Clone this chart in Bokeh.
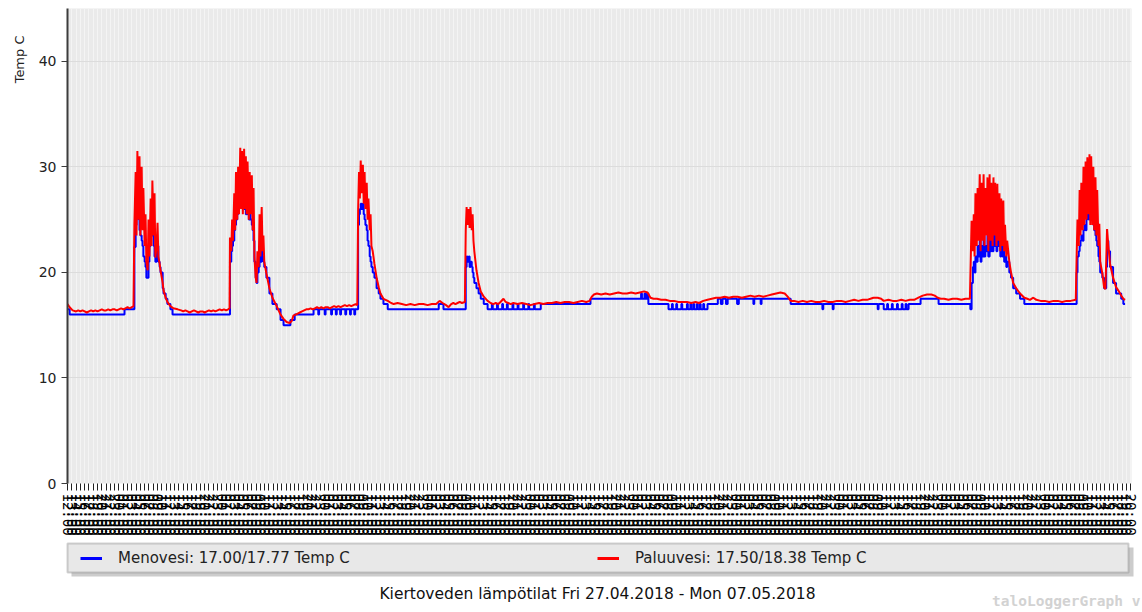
from bokeh.embed import file_html
from bokeh.layouts import column
from bokeh.models import (BoxAnnotation, FixedTicker, Label, Legend, LegendItem,
                          Range1d, Title)
from bokeh.plotting import figure
from bokeh.resources import INLINE

# Time axis: hours since Fri 27.04.2018 12:00
START_HOUR = 12
SPAN_HOURS = 248.2

# Menovesi (supply water), logged with 0.5 degree steps
meno_t = [
    0.0, 0.5, 13.3,
    15.6, 15.9, 16.1, 16.3, 16.6, 16.8, 17.0, 17.3, 17.5, 17.7, 18.0, 18.2, 18.4, 18.9,
    19.1, 19.4, 19.6, 19.8, 20.1, 20.3, 20.5, 20.8, 21.0, 21.2, 21.5, 21.7, 22.2, 22.4,
    22.9, 23.3, 24.0, 24.5,
    37.9, 38.2, 38.4, 38.6, 38.9, 39.1, 39.3, 39.6, 39.8, 40.0, 40.3, 40.5, 40.7, 40.9,
    41.2, 41.4, 41.6, 41.8, 42.0, 42.3, 42.5, 42.7, 43.0, 43.2, 43.4, 43.6, 43.9, 44.1,
    44.3, 44.6, 44.8, 45.0, 45.3, 45.5, 45.7, 45.9, 46.4, 47.1, 47.8, 48.8, 49.7, 50.4,
    52.0, 53.0, 57.4, 58.5, 58.7, 60.0, 60.2, 61.5, 61.7, 62.6, 62.8, 63.6, 63.8, 64.8,
    65.0, 65.9, 66.1, 66.9, 67.1,
    67.8, 68.0, 68.2, 68.4, 68.6, 68.9, 69.1, 69.3, 69.5, 69.8, 70.0, 70.2, 70.5, 70.7,
    70.9, 71.2, 71.6, 72.1, 72.6, 73.0, 73.7, 74.7, 86.6, 87.7,
    92.9, 93.1, 93.3, 93.6, 93.8, 94.0, 94.3, 94.5, 94.7, 94.9, 95.4, 95.9, 96.4, 97.1,
    98.0, 99.0, 99.2, 100.2, 100.4, 101.4, 101.6, 102.5, 102.7, 103.8, 104.0, 105.0,
    105.2, 106.3, 106.5, 107.5, 107.7, 108.8, 109.0, 110.4, 122.0, 133.8, 134.0, 134.6,
    134.8, 135.2, 135.5, 140.2, 141.0, 141.2, 142.0, 142.2, 143.2, 143.4, 144.5, 144.7,
    145.3, 145.5, 146.0, 146.2, 146.8, 147.0, 147.5, 147.7, 148.3, 148.5, 149.3, 151.7,
    152.4, 152.8, 153.6, 154.0, 156.2, 156.6, 160.0, 160.2, 161.7, 161.9, 168.7, 176.1,
    176.3, 178.5, 178.7, 189.0, 189.2, 190.4, 191.2, 191.4, 192.3, 192.5, 193.5, 193.7,
    194.6, 194.8, 195.5, 195.7, 196.2, 199.0, 203.2, 210.6,
    210.9, 211.2, 211.4, 211.6, 211.8, 212.1, 212.3, 212.5, 212.8, 213.0, 213.2, 213.5,
    213.7, 213.9, 214.1, 214.4, 214.6, 214.8, 215.1, 215.3, 215.5, 215.8, 216.0, 216.2,
    216.4, 216.7, 216.9, 217.1, 217.4, 217.6, 217.8, 218.1, 218.3, 218.5, 218.7, 219.0,
    219.2, 219.7, 220.1, 220.6, 221.3, 222.2, 223.2,
    235.4, 235.6, 235.9, 236.1, 236.3, 236.5, 236.8, 237.0, 237.2, 237.5, 237.7, 237.9,
    238.2, 238.4, 238.6, 238.8, 239.1, 239.3, 239.5, 239.8, 240.0, 240.2, 240.5, 240.7,
    240.9, 241.4, 241.8, 242.1, 242.3, 242.5, 242.8, 243.2, 243.9, 244.6, 245.1, 245.8,
    246.3, 246.7,
]
meno_v = [
    16.5, 16.0, 16.5,
    22.4, 24.5, 25.5, 26.5, 25.0, 24.0, 23.5, 23.0, 22.5, 21.5, 21.0, 20.5, 19.5, 21.0,
    22.5, 24.0, 23.5, 24.0, 22.5, 21.5, 21.0, 22.0, 22.5, 21.0, 20.5, 20.0, 18.5, 18.0,
    17.5, 17.0, 16.5, 16.0,
    21.0, 22.0, 22.5, 23.0, 24.0, 24.5, 25.0, 25.5, 26.0, 26.5, 27.0, 26.5, 27.0, 26.5,
    26.0, 26.5, 25.5, 26.0, 25.5, 25.0, 25.5, 25.0, 24.5, 24.0, 23.0, 21.0, 19.5, 19.0,
    20.0, 20.5, 21.5, 21.0, 22.0, 21.5, 21.0, 20.5, 19.5, 18.0, 17.0, 16.5, 15.5, 15.0,
    15.5, 16.0, 16.5, 16.0, 16.5, 16.0, 16.5, 16.0, 16.5, 16.0, 16.5, 16.0, 16.5, 16.0,
    16.5, 16.0, 16.5, 16.0, 16.5,
    24.5, 25.5, 26.0, 26.5, 26.0, 26.5, 25.5, 25.0, 24.5, 24.0, 23.0, 22.5, 21.5, 21.0,
    20.5, 20.0, 19.5, 18.5, 18.0, 17.5, 17.0, 16.5, 17.0, 16.5,
    20.5, 21.5, 21.0, 21.5, 20.5, 21.0, 20.5, 20.0, 19.5, 19.0, 18.5, 18.0, 17.5, 17.0,
    16.5, 17.0, 16.5, 17.0, 16.5, 17.0, 16.5, 17.0, 16.5, 17.0, 16.5, 17.0,
    16.5, 17.0, 16.5, 17.0, 16.5, 17.0, 16.5, 17.0, 17.5, 18.0, 17.5, 18.0,
    17.5, 18.0, 17.0, 16.5, 17.0, 16.5, 17.0, 16.5, 17.0, 16.5, 17.0, 16.5,
    17.0, 16.5, 17.0, 16.5, 17.0, 16.5, 17.0, 16.5, 17.0, 16.5, 17.0, 17.5,
    17.0, 17.5, 17.0, 17.5, 17.0, 17.5, 17.0, 17.5, 17.0, 17.5, 17.0, 16.5,
    17.0, 16.5, 17.0, 16.5, 17.0, 16.5, 17.0, 16.5, 17.0, 16.5, 17.0, 16.5,
    17.0, 16.5, 17.0, 16.5, 17.0, 17.5, 17.0, 16.5,
    19.0, 20.5, 21.0, 20.0, 21.5, 21.0, 22.5, 21.5, 23.0, 21.0, 22.5, 21.5,
    23.5, 21.5, 22.5, 22.0, 23.5, 21.5, 24.0, 22.0, 23.0, 22.0, 24.0, 22.5,
    23.5, 22.0, 24.3, 22.5, 23.5, 21.5, 23.0, 21.5, 22.5, 21.0, 21.5, 20.5,
    21.0, 20.0, 19.5, 18.5, 18.0, 17.5, 17.0,
    20.0, 21.5, 22.0, 22.5, 23.0, 23.5, 23.0, 24.0, 24.5, 24.0, 25.0, 25.5,
    25.0, 26.0, 25.5, 25.5, 25.0, 24.5, 24.0, 23.5, 23.0, 22.5, 21.5, 21.0,
    20.0, 19.5, 18.5, 18.5, 20.5, 23.0, 22.0, 20.5, 19.0, 18.0, 18.0, 17.5,
    17.0, 17.0,
]

# Paluuvesi (return water)
paluu_t = [
    0.0, 0.5, 1.2, 2.0, 2.5, 3.0, 3.5, 4.0, 4.5, 5.0, 5.5, 6.0, 6.5, 7.0, 7.5, 8.0, 8.5,
    9.0, 9.5, 10.0, 10.5, 11.0, 11.5, 12.0, 12.5, 13.0, 13.5, 14.0, 14.5, 15.0, 15.4,
    15.6, 15.9, 16.1, 16.3, 16.6, 16.8, 17.0, 17.3, 17.5, 17.7, 18.0, 18.2, 18.4, 18.7,
    18.9, 19.1, 19.4, 19.6, 19.8, 20.1, 20.3, 20.5, 20.8, 21.0, 21.2, 21.5, 21.7, 22.2,
    22.4, 22.9, 23.3, 24.0, 24.7, 25.7, 26.5, 27.0, 27.5, 28.0, 28.5, 29.0, 29.5, 30.0,
    30.5, 31.0, 31.5, 32.0, 32.5, 33.0, 33.5, 34.0, 34.5, 35.0, 35.5, 36.0, 36.5, 37.0,
    37.5, 37.8,
    37.9, 38.2, 38.4, 38.6, 38.9, 39.1, 39.3, 39.6, 39.8, 40.0, 40.3, 40.5, 40.7, 40.9,
    41.2, 41.4, 41.6, 41.8, 42.0, 42.3, 42.5, 42.7, 43.0, 43.2, 43.4, 43.6, 43.9, 44.1,
    44.3, 44.6, 44.8, 45.0, 45.3, 45.5, 45.7, 45.9, 46.4, 47.1, 47.8, 48.8, 49.7, 50.4,
    51.1, 51.8, 52.3, 52.7, 53.2, 53.7, 54.2, 54.7, 55.2, 55.7, 56.2, 56.7, 57.2, 57.7,
    58.2, 58.7, 59.2, 59.7, 60.2, 60.7, 61.2, 61.7, 62.2, 62.7, 63.2, 63.7, 64.2, 64.7,
    65.2, 65.7, 66.2, 66.7, 67.2, 67.6,
    67.8, 68.0, 68.2, 68.4, 68.6, 68.9, 69.1, 69.3, 69.5, 69.8, 70.0, 70.2, 70.5, 70.7,
    70.9, 71.2, 71.6, 72.1, 72.6, 73.0, 73.7, 74.7, 75.5, 76.1, 77.0, 78.0, 79.0, 80.0,
    81.0, 82.0, 83.0, 84.0, 85.0, 86.0, 86.8, 87.5, 88.3, 88.9, 89.5, 90.0, 90.5, 91.0,
    91.5, 92.0, 92.7,
    92.9, 93.1, 93.3, 93.6, 93.8, 94.0, 94.3, 94.5, 94.7, 94.9, 95.4, 95.9, 96.4, 97.1,
    98.0, 98.7, 99.3, 99.9, 100.5, 101.0, 101.7, 102.2, 102.8, 103.4, 104.0, 105.0,
    106.0, 107.0, 108.0, 109.0, 110.0, 111.0, 112.0, 113.0, 114.0, 115.0, 116.0, 117.0,
    118.0, 119.0, 120.0, 121.0, 121.8, 122.3, 122.8, 123.5, 124.5, 125.5, 126.5, 127.5,
    128.5, 129.5, 130.5, 131.5, 132.5, 133.5, 134.5, 135.3, 136.0, 136.7, 137.5, 138.5,
    139.5, 140.5, 141.5, 142.5, 143.5, 144.5, 145.5, 146.5, 147.3, 148.3, 149.3, 150.3,
    151.3, 152.3, 153.3, 154.3, 155.3, 156.3, 157.3, 158.3, 159.3, 160.3, 161.3, 162.3,
    163.3, 164.3, 165.3, 166.3, 167.3, 168.0, 168.7, 169.5, 170.5, 171.5, 172.5, 173.5,
    174.5, 175.5, 176.5, 177.5, 178.5, 179.5, 180.5, 181.5, 182.5, 183.5, 184.5, 185.5,
    186.5, 187.3, 188.0, 189.0, 189.8, 190.4, 191.5, 192.5, 193.5, 194.5, 195.5, 196.5,
    197.5, 198.5, 199.5, 200.5, 201.5, 202.3, 203.0, 203.7, 204.5, 205.5, 206.5, 207.5,
    208.5, 209.5, 210.5,
    210.9, 211.2, 211.4, 211.6, 211.8, 212.1, 212.3, 212.5, 212.8, 213.0, 213.2, 213.5,
    213.7, 213.9, 214.1, 214.4, 214.6, 214.8, 215.1, 215.3, 215.5, 215.8, 216.0, 216.2,
    216.4, 216.7, 216.9, 217.1, 217.4, 217.6, 217.8, 218.1, 218.3, 218.5, 218.7, 219.0,
    219.2, 219.7, 220.1, 220.6, 221.3, 222.2, 223.2, 223.9, 224.5, 225.3, 226.0, 227.0,
    228.0, 229.0, 230.0, 231.0, 232.0, 233.0, 234.0, 235.2,
    235.4, 235.6, 235.9, 236.1, 236.3, 236.5, 236.8, 237.0, 237.2, 237.5, 237.7, 237.9,
    238.2, 238.4, 238.6, 238.8, 239.1, 239.3, 239.5, 239.8, 240.0, 240.2, 240.5, 240.7,
    240.9, 241.4, 241.8, 242.1, 242.3, 242.5, 242.8, 243.2, 243.9, 244.6, 245.1, 245.8,
    246.3, 246.7,
]
paluu_v = [
    17.0, 16.7, 16.4, 16.3, 16.4, 16.3, 16.4, 16.3, 16.2, 16.3, 16.4, 16.3, 16.4, 16.3,
    16.4, 16.5, 16.4, 16.4, 16.5, 16.4, 16.5, 16.5, 16.4, 16.5, 16.6, 16.5, 16.6, 16.7,
    16.6, 16.7, 16.8,
    24.5, 29.5, 23.5, 31.5, 25.0, 31.0, 23.5, 30.0, 24.0, 28.0, 22.5, 25.5, 21.0, 20.2,
    25.0, 21.5, 27.0, 22.5, 28.7, 23.5, 27.5, 21.4, 22.5, 24.7, 21.5, 20.8, 20.2, 19.0,
    18.3, 17.6, 17.2, 16.8, 16.6, 16.5, 16.4, 16.3, 16.4, 16.3, 16.2, 16.3, 16.4, 16.3,
    16.2, 16.3, 16.3, 16.2, 16.3, 16.4, 16.3, 16.4, 16.3, 16.4, 16.5, 16.4, 16.5, 16.4,
    16.5, 16.6,
    23.3, 22.0, 25.0, 23.0, 27.5, 24.0, 29.5, 25.0, 30.0, 25.5, 31.8, 26.0, 31.5, 25.5,
    31.7, 26.0, 31.0, 25.5, 30.5, 25.0, 29.5, 25.5, 29.2, 24.0, 28.0, 21.5, 19.5, 19.0,
    22.0, 20.5, 25.5, 21.5, 26.2, 22.0, 23.5, 21.0, 19.9, 18.5, 17.6, 16.8, 16.0, 15.6,
    15.3, 15.2, 15.4, 15.9, 16.0, 16.1, 16.2, 16.3, 16.4, 16.5, 16.5, 16.6, 16.5, 16.6,
    16.7, 16.6, 16.7, 16.6, 16.7, 16.7, 16.6, 16.7, 16.8, 16.7, 16.8, 16.7, 16.8, 16.9,
    16.8, 16.9, 16.8, 16.9, 17.0, 16.9,
    26.0, 29.5, 27.0, 30.6, 27.5, 30.2, 26.5, 29.5, 26.0, 28.5, 25.0, 27.0, 24.0, 25.5,
    22.5, 22.0, 20.8, 19.5, 18.6, 18.0, 17.5, 17.3, 17.1, 17.0, 17.1, 17.0, 16.9, 17.0,
    16.9, 17.0, 17.0, 16.9, 17.0, 17.0, 17.3, 17.1, 16.9, 16.7, 17.0, 17.1, 17.0, 17.1,
    17.2, 17.1, 17.2,
    24.0, 26.2, 24.5, 26.0, 24.2, 26.2, 24.0, 25.5, 23.0, 22.0, 20.2, 19.0, 18.2, 17.7,
    17.3, 17.1, 17.0, 17.1, 17.0, 17.2, 17.5, 17.2, 17.1, 17.0, 17.1, 17.0,
    17.1, 17.0, 16.9, 17.0, 17.1, 17.0, 17.1, 17.1, 17.2, 17.1, 17.2, 17.2,
    17.1, 17.2, 17.3, 17.2, 17.3, 17.7, 17.9, 18.0, 17.9, 18.0, 17.9, 18.0,
    18.1, 18.0, 18.0, 18.1, 18.0, 18.1, 18.2, 18.1, 17.6, 17.5, 17.5, 17.4,
    17.4, 17.3, 17.3, 17.2, 17.2, 17.2, 17.1, 17.2, 17.1, 17.3, 17.4, 17.5,
    17.6, 17.6, 17.7, 17.6, 17.7, 17.7, 17.6, 17.7, 17.8, 17.7, 17.8, 17.7,
    17.8, 17.9, 18.0, 18.1, 18.0, 17.7, 17.3, 17.3, 17.2, 17.3, 17.2, 17.3,
    17.2, 17.2, 17.3, 17.2, 17.2, 17.3, 17.3, 17.2, 17.3, 17.4, 17.3, 17.4,
    17.4, 17.5, 17.6, 17.6, 17.5, 17.3, 17.4, 17.3, 17.3, 17.4, 17.3, 17.4,
    17.4, 17.6, 17.8, 17.9, 17.9, 17.8, 17.6, 17.5, 17.5, 17.4, 17.5, 17.5,
    17.4, 17.5, 17.5,
    24.9, 22.0, 25.5, 21.5, 27.5, 22.5, 28.0, 23.0, 29.3, 22.0, 28.5, 23.0,
    29.3, 22.5, 28.0, 23.5, 29.0, 22.0, 29.3, 23.0, 28.5, 22.5, 29.0, 23.5,
    28.5, 22.5, 28.4, 23.0, 27.5, 22.0, 27.0, 22.5, 26.8, 22.0, 24.5, 21.5,
    23.0, 21.0, 20.0, 19.0, 18.5, 18.0, 17.6, 17.5, 17.4, 17.6, 17.4, 17.3,
    17.3, 17.2, 17.3, 17.3, 17.2, 17.3, 17.3, 17.4,
    21.4, 25.0, 22.5, 27.8, 23.5, 28.5, 24.0, 30.0, 24.5, 30.5, 25.0, 30.9,
    25.5, 31.2, 24.5, 31.0, 24.5, 30.0, 24.0, 29.0, 23.5, 27.8, 22.5, 24.6,
    21.0, 19.9, 18.6, 18.4, 21.0, 24.1, 22.5, 20.8, 19.5, 18.6, 18.3, 17.8,
    17.5, 17.4,
]

y_ticks = [0, 10, 20, 30, 40]
hour_ticks = list(range(0, 249))
hour_labels = {h: f"{(START_HOUR + h) % 24:02d}:00" for h in hour_ticks}

series_names = ["Menovesi: 17.00/17.77 Temp C", "Paluuvesi: 17.50/18.38 Temp C"]
series_colors = ["#0000FF", "#FF0000"]
chart_title = "Kiertoveden lämpötilat Fri 27.04.2018 - Mon 07.05.2018"
unit_label = "Temp C"
brand = "taloLoggerGraph v"

FONT = "DejaVu Sans"
W = 1142
CHART_H = 540
FOOT_H = 72

# ---- chart ----
p = figure(width=W, height=CHART_H, output_backend="svg", toolbar_location=None,
           x_range=Range1d(0, SPAN_HOURS), y_range=Range1d(0, 45),
           min_border_left=67, min_border_right=11, min_border_top=8,
           min_border_bottom=57,
           background_fill_color="#EAEAEA", border_fill_color="white",
           outline_line_color=None)

p.yaxis.ticker = FixedTicker(ticks=y_ticks)
p.yaxis.axis_line_color = "#3C3C3C"
p.yaxis.axis_line_width = 2
p.yaxis.major_tick_out = 6
p.yaxis.major_tick_in = 0
p.yaxis.major_tick_line_color = "#3C3C3C"
p.yaxis.minor_tick_line_color = None
p.yaxis.major_label_text_font = FONT
p.yaxis.major_label_text_font_size = "14px"
p.yaxis.major_label_text_color = "#222222"
p.yaxis.major_label_standoff = 5

p.xaxis.ticker = FixedTicker(ticks=hour_ticks)
p.xaxis.major_label_overrides = hour_labels
p.xaxis.major_label_orientation = "vertical"
p.xaxis.axis_line_color = None
p.xaxis.major_tick_out = 7
p.xaxis.major_tick_in = 0
p.xaxis.major_tick_line_color = "#222222"
p.xaxis.minor_tick_line_color = None
p.xaxis.major_label_text_font = "DejaVu Sans Mono"
p.xaxis.major_label_text_font_size = "14px"
p.xaxis.major_label_text_color = "#000000"
p.xaxis.major_label_standoff = 3

p.xgrid.ticker = FixedTicker(ticks=hour_ticks)
p.xgrid.grid_line_color = "#F4F4F4"
p.ygrid.ticker = FixedTicker(ticks=y_ticks)
p.ygrid.grid_line_color = "#DCDCDC"

p.step(meno_t, meno_v, mode="after", line_color=series_colors[0], line_width=2)
p.line(paluu_t, paluu_v, line_color=series_colors[1], line_width=2)

p.add_layout(Title(text=unit_label, align="right", offset=27, standoff=17,
                   text_font=FONT, text_font_size="13px", text_font_style="normal",
                   text_color="#222222"), "left")

# ---- footer: legend box with drop shadow, title and brand ----
foot = figure(width=W, height=FOOT_H, output_backend="svg", toolbar_location=None,
              x_range=Range1d(0, W), y_range=Range1d(FOOT_H, 0),
              x_axis_type=None, y_axis_type=None, min_border=0,
              outline_line_color=None, background_fill_color="white")
foot.frame_align = False
foot.grid.visible = False

foot.add_layout(BoxAnnotation(left=71, right=1133, top=7, bottom=36,
                              fill_color="#9A9A9A", fill_alpha=0.5, line_color=None))
foot.add_layout(BoxAnnotation(left=67, right=1128, top=3, bottom=32,
                              fill_color="#E8E8E8", fill_alpha=1,
                              line_color="#6A6A6A", line_width=2))

key_renderers = [foot.line(x=[float("nan")], y=[float("nan")], line_color=c,
                           line_width=3) for c in series_colors]
legend = Legend(items=[LegendItem(label=n, renderers=[r])
                       for n, r in zip(series_names, key_renderers)],
                orientation="horizontal", location=(80, 45),
                background_fill_alpha=0, border_line_color=None,
                glyph_width=22, glyph_height=14, label_standoff=16,
                label_width=479, spacing=0, padding=5, margin=0,
                label_text_font=FONT, label_text_font_size="15px",
                label_text_color="#222222", label_height=14)
foot.add_layout(legend)

foot.add_layout(Label(x=597, y=53, text=chart_title, text_align="center",
                      text_baseline="middle", text_font=FONT, text_font_size="15.5px",
                      text_color="#111111"))
foot.add_layout(Label(x=1140, y=60, text=brand, text_align="right",
                      text_baseline="middle", text_font="DejaVu Sans Mono",
                      text_font_size="14.5px", text_font_style="bold",
                      text_color="#D2D2D2"))

open("out.html", "w").write(file_html(column(p, foot, spacing=0), INLINE))
